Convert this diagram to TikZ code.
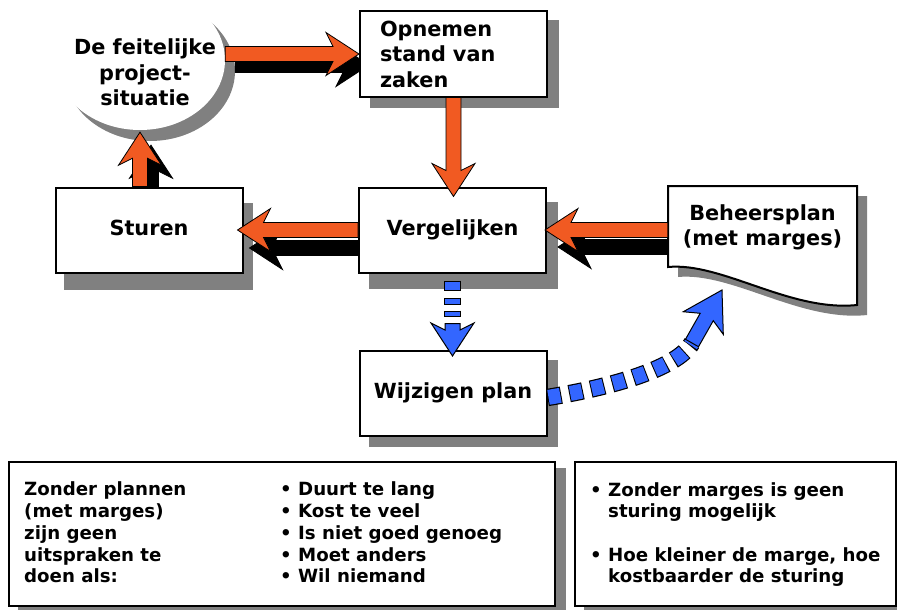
\documentclass[tikz,border=0pt]{standalone}
\usepackage{fontspec}
\setmainfont{DejaVu Sans}
\usepackage{tikz}
\usetikzlibrary{calc}
\usetikzlibrary{shapes.geometric}
\definecolor{oranje}{RGB}{241,90,34}
\definecolor{blauw}{RGB}{51,102,255}
\definecolor{grijs}{RGB}{128,128,128}
\newcommand{\blokfont}{\fontsize{20.8}{25.5}\selectfont\bfseries}
\newcommand{\tekstfont}{\fontsize{18.2}{21.75}\selectfont\bfseries}
\newcommand{\fahl}{33pt}
\newcommand{\fanotch}{26pt}
\newcommand{\fahw}{21.5pt}
\newcommand{\fasw}{7.5pt}
\newcommand{\fatarrow}[3][]{%
  \coordinate (fa-s) at (#2);
  \coordinate (fa-e) at (#3);
  \coordinate (fa-h) at ($(fa-e)!\fahl!(fa-s)$);
  \coordinate (fa-j) at ($(fa-e)!\fanotch!(fa-s)$);
  \filldraw[#1] ($(fa-s)!\fasw!90:(fa-e)$) -- ($(fa-j)!\fasw!90:(fa-e)$)
    -- ($(fa-h)!\fahw!90:(fa-e)$) -- (fa-e) -- ($(fa-h)!\fahw!-90:(fa-e)$)
    -- ($(fa-j)!\fasw!-90:(fa-e)$) -- ($(fa-s)!\fasw!-90:(fa-e)$) -- cycle;
}
\pgfdeclarelayer{achter}
\pgfsetlayers{achter,main}
\tikzset{blok/.style={draw, fill=white, line width=2pt, minimum width=187pt, minimum height=85pt, font=\blokfont}}
\tikzset{blokeen/.style={text height=15.8pt, text depth=4.9pt}}
\tikzset{wolk/.style={ellipse, fill=white, minimum width=170pt, minimum height=140pt, inner sep=0pt}}
\tikzset{noot/.style={draw, fill=white, line width=2pt}}
\tikzset{tekst/.style={font=\tekstfont, align=left, inner sep=0pt, anchor=west}}
\tikzset{schaduw/.style={fill=grijs}}
\tikzset{fatpijl/.style={fill=oranje, draw=black, line width=0.8pt}}
\tikzset{fatschaduw/.style={fill=black, draw=black, line width=0.8pt}}
\tikzset{blauwpijl/.style={fill=blauw, draw=black, line width=1pt}}
\tikzset{blauwstip/.style={draw=blauw, line width=15pt}}
\tikzset{blauwrand/.style={draw=black, line width=17.4pt}}
\tikzset{docrand/.style={insert path={(668,186) -- (857,186) -- (857,305) .. controls (790,312) and (722,262) .. (668,267) -- cycle}}}

\begin{document}
\begin{tikzpicture}[x=1pt, y=-1pt]
    \useasboundingbox (0,0) rectangle (897,610);

    \node[wolk] (blob) at (140,60) {};
    \node[font=\blokfont, align=center] (blobtekst) at (145,72.5) {De feitelijke\\project-\\situatie};
    \node[blok, text width=147pt, align=left, inner xsep=20pt] (opn) at (453.5,54) {Opnemen\\stand van\\zaken};
    \node[blok, blokeen] (stu) at (149,230) {Sturen};
    \node[blok, blokeen] (verg) at (452.5,230) {Vergelijken};
    \node[blok, blokeen] (wijz) at (453,393.5) {Wijzigen plan};

    \node[inner sep=0pt, minimum width=189pt, minimum height=121pt] (plan) at (762.5,246.5) {};
    \filldraw[fill=white, line width=2pt, docrand];
    \node[font=\blokfont, align=center] (plantekst) at ([yshift=19pt]plan.center) {Beheersplan\\(met marges)};

    \node[noot, minimum width=546pt, minimum height=144pt] (links) at (282,534) {};
    \node[noot, minimum width=321pt, minimum height=144pt] (rechts) at (735.5,534) {};
    \node[tekst] (zonder) at (24,532.6) {Zonder plannen\\(met marges)\\zijn geen\\uitspraken te\\doen als:};
    \node[tekst] (lijst) at (280,532.6) {• Duurt te lang\\• Kost te veel\\• Is niet goed genoeg\\• Moet anders\\• Wil niemand};
    \node[tekst] (regels) at (590,534.6) {• Zonder marges is geen\\\phantom{• }sturing mogelijk\\[21.5pt]• Hoe kleiner de marge, hoe\\\phantom{• }kostbaarder de sturing};

    \begin{pgfonlayer}{achter}
        \foreach \n/\dx/\dy in {opn/11/10, stu/9/16, verg/11/15, wijz/10/10, links/10/7, rechts/10/7}
            \fill[schaduw] ([shift={(\dx,\dy)}]\n.south west) rectangle ([shift={(\dx,\dy)}]\n.north east);
        \fill[schaduw] ([shift={(10,11)}]blob.center) ellipse [x radius=85pt, y radius=70pt];
        \fill[schaduw, shift={(10,10)}, docrand];
        \fatarrow[fatschaduw]{$(blob.east |- opn.west)+(10,11)$}{$(opn.west)+(10,11)$}
        \fatarrow[fatschaduw]{$(verg.west)+(12,18)$}{$(stu.east)+(6,18)$}
        \fatarrow[fatschaduw]{$(plan.west |- verg.west)+(13,17)$}{$(verg.east)+(11,17)$}
        \fatarrow[fatschaduw]{$(stu.north -| blob.south)+(11,13)$}{$(blob.south)+(11,15)$}
    \end{pgfonlayer}

    \fatarrow[fatpijl]{blob.east |- opn.west}{opn.west}
    \fatarrow[fatpijl]{opn.south}{$(opn.south |- verg.north)+(0,10)$}
    \fatarrow[fatpijl]{verg.west}{$(stu.east)+(-6,0)$}
    \fatarrow[fatpijl]{plan.west |- verg.west}{$(verg.east)+(-2,0)$}
    \fatarrow[fatpijl]{stu.north -| blob.south}{$(blob.south)+(0,2)$}

    \draw[blauwstip, dash pattern=on 8pt off 9pt on 5pt off 8pt on 4pt off 16pt, dash phase=42pt,
          preaction={blauwrand, dash pattern=on 10pt off 7pt on 7pt off 6pt on 6pt off 14pt, dash phase=43pt}]
        (verg.south) -- ++(0,50);
    \fatarrow[blauwpijl]{$(verg.south)+(0,50)$}{$(verg.south |- wijz.north)+(0,6)$}

    \coordinate (plantip) at (722,290);
    \coordinate (planpijl) at (692,343);
    \draw[blauwstip, dash pattern=on 12pt off 10pt, dash phase=21pt,
          preaction={blauwrand, dash pattern=on 14pt off 8pt, dash phase=0pt}]
        ([yshift=-4pt]wijz.east) .. controls +(55,-9) and +(-17,28) .. (planpijl);
    \begin{scope}
        \renewcommand{\fahl}{38pt}\renewcommand{\fanotch}{31pt}\renewcommand{\fahw}{23pt}
        \fatarrow[blauwpijl]{planpijl}{plantip}
    \end{scope}
\end{tikzpicture}
\end{document}
